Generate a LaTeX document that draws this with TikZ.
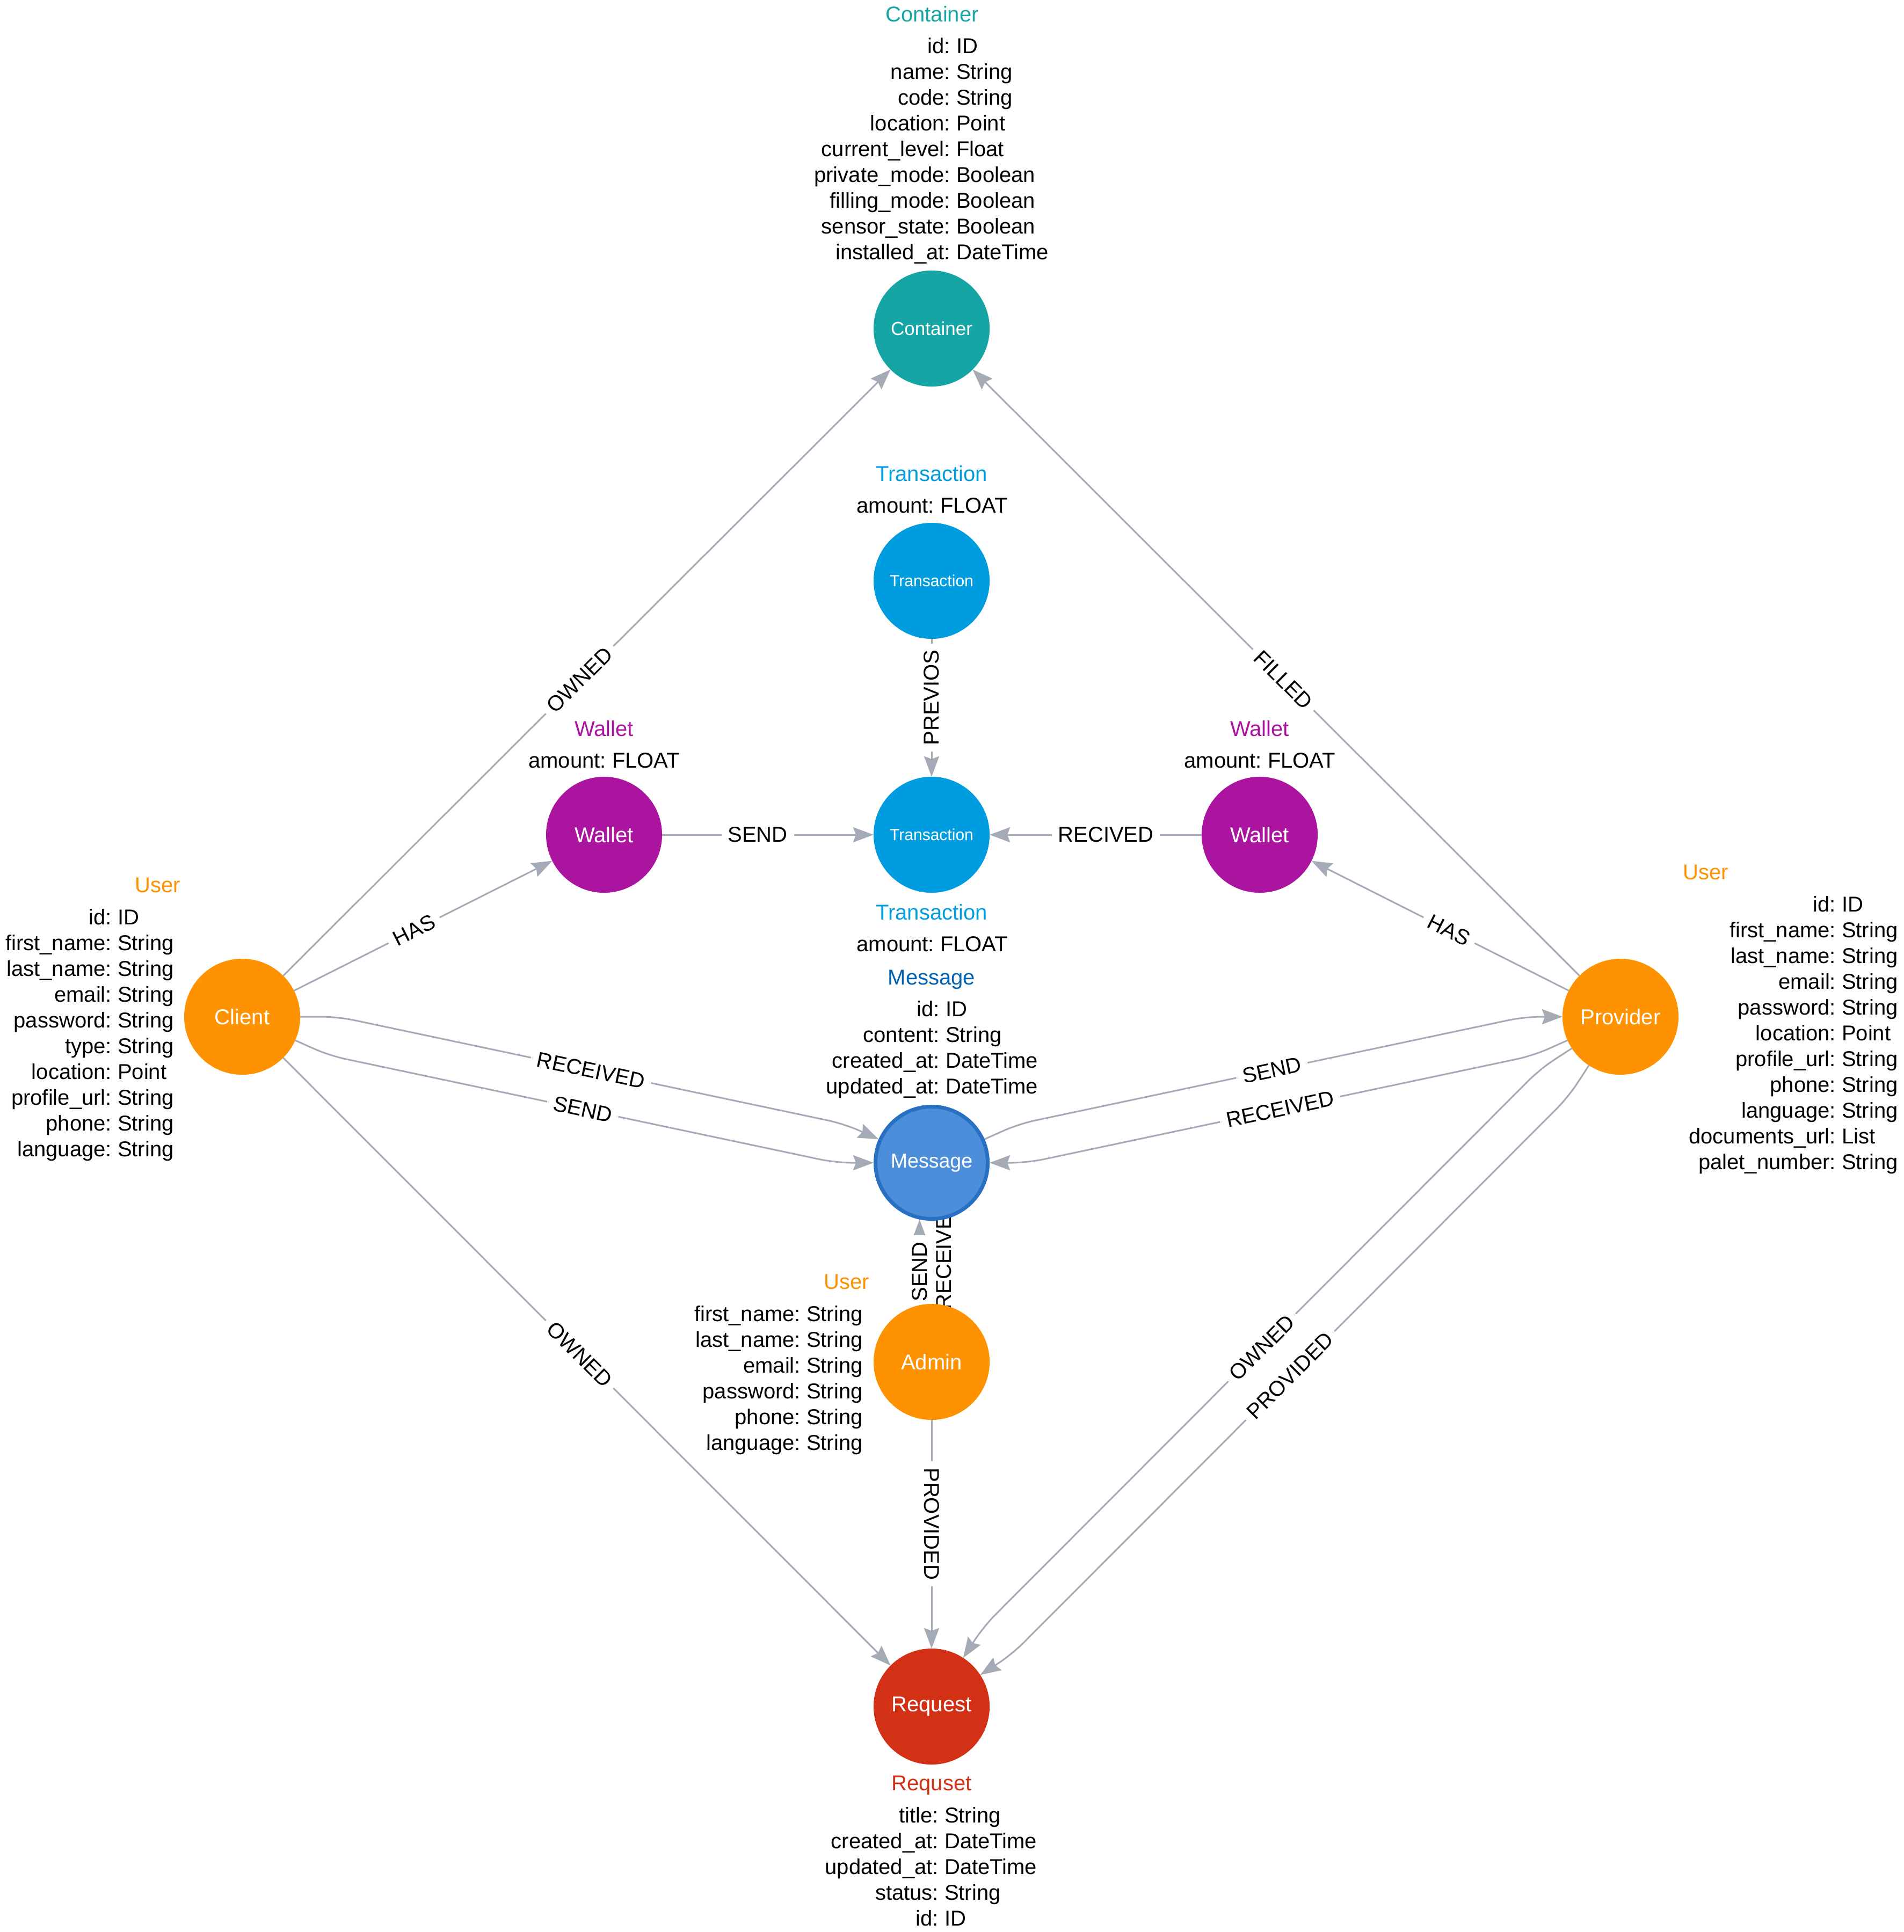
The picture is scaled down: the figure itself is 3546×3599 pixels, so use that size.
\documentclass[tikz,border=0pt]{standalone}
\usepackage{fontspec}
\setmainfont{Liberation Sans}
\usetikzlibrary{arrows.meta,calc,backgrounds}

\definecolor{cteal}{HTML}{16A5A5}
\definecolor{ctrans}{HTML}{009CE0}
\definecolor{cwallet}{HTML}{AB149E}
\definecolor{corange}{HTML}{FE9200}
\definecolor{cred}{HTML}{D33115}
\definecolor{cmsg}{HTML}{4C8EDA}
\definecolor{cmsgline}{HTML}{2870C2}
\definecolor{cmsghead}{HTML}{0062B1}
\definecolor{crel}{HTML}{A5ABB6}

\newcommand\fsz[1]{\fontsize{#1}{#1}\selectfont}
% property list aligned on the colon: #1 prefix, #2 colon x, #3 first baseline, #4 key/value pairs
\newcommand\proplist[4]{%
  \foreach \k/\v [count=\i from 0] in {#4}{%
    \node[prop, anchor=base east] (#1k\i) at (#2, #3+48*\i) {\k:};
    \node[prop, anchor=base west] (#1v\i) at (#2+11.1, #3+48*\i) {\v};
  }%
}

\tikzset{
  ent/.style={circle, minimum size=2.16cm, inner sep=0pt, outer sep=0pt,
    text=white, font=\fsz{11.38pt}},
  prop/.style={inner sep=0pt, outer sep=0pt, font=\fsz{11.38pt}, text=black},
  head/.style={prop, anchor=base},
  rel/.style={draw=crel, line width=0.03cm,
    -{Stealth[length=0.38cm, width=0.28cm, inset=0.05cm]}},
  bent/.style={rel, rounded corners=0.3cm},
  elabel/.style={fill=white, text=black, font=\fsz{11.38pt},
    inner xsep=0.12cm, inner ysep=0.03cm},
}

\begin{document}
\begin{tikzpicture}[x=0.01cm, y=-0.01cm]
\useasboundingbox (0,0) rectangle (3546,3599);

% entities
\node[ent, fill=cteal, font=\fsz{9.96pt}] (cont) at (1735,612) {Container};
\node[ent, fill=ctrans, font=\fsz{8.54pt}] (tr1) at (1735,1082) {Transaction};
\node[ent, fill=ctrans, font=\fsz{8.54pt}] (tr2) at (1735,1555) {Transaction};
\node[ent, fill=cwallet] (wal1) at (1125,1555) {Wallet};
\node[ent, fill=cwallet] (wal2) at (2346,1555) {Wallet};
\node[ent, fill=corange] (client) at (451,1894) {Client};
\node[ent, fill=corange] (prov) at (3018,1894) {Provider};
\node[ent, fill=cmsg, draw=cmsgline, line width=0.07cm, minimum size=2.09cm,
      outer sep=0.035cm, font=\fsz{10.67pt}] (msg) at (1735,2166) {Message};
\node[ent, fill=corange] (admin) at (1735,2537) {Admin};
\node[ent, fill=cred] (req) at (1735,3179) {Request};

% captions and properties
\node[head, text=cteal] (contcap) at (1736,40) {Container};
\proplist{cont}{1770}{99}{id/ID, name/String, code/String, location/Point,
  current\_level/Float, private\_mode/Boolean, filling\_mode/Boolean,
  sensor\_state/Boolean, installed\_at/DateTime}

\node[head, text=ctrans] (tronecap) at (1735,896) {Transaction};
\proplist{trone}{1740}{955}{amount/FLOAT}

\node[head, text=ctrans] (trtwocap) at (1735,1713) {Transaction};
\proplist{trtwo}{1740}{1772}{amount/FLOAT}

\node[head, text=cwallet] (walonecap) at (1125,1371) {Wallet};
\proplist{walone}{1129}{1430}{amount/FLOAT}

\node[head, text=cwallet] (waltwocap) at (2346,1371) {Wallet};
\proplist{waltwo}{2350}{1430}{amount/FLOAT}

\node[head, text=cmsghead] (msgcap) at (1735,1834) {Message};
\proplist{msg}{1750}{1893}{id/ID, content/String, created\_at/DateTime,
  updated\_at/DateTime}

\node[head, text=corange] (clientcap) at (294,1662) {User};
\proplist{client}{208}{1722}{id/ID, first\_name/String, last\_name/String,
  email/String, password/String, type/String, location/Point,
  profile\_url/String, phone/String, language/String}

\node[head, text=corange] (provcap) at (3177,1638) {User};
\proplist{prov}{3419}{1698}{id/ID, first\_name/String, last\_name/String,
  email/String, password/String, location/Point, profile\_url/String,
  phone/String, language/String, documents\_url/List, palet\_number/String}

\node[head, text=corange] (admincap) at (1577,2401) {User};
\proplist{admin}{1491}{2461}{first\_name/String, last\_name/String,
  email/String, password/String, phone/String, language/String}

\node[head, text=cred] (reqcap) at (1735,3335) {Requset};
\proplist{req}{1748}{3395}{title/String, created\_at/DateTime,
  updated\_at/DateTime, status/String, id/ID}

% relationships, drawn beneath the entities
\begin{pgfonlayer}{background}
\fill[white] (0,0) rectangle (3546,3599);

\draw[rel] (client) -- node[elabel, sloped, pos=0.488] {OWNED} (cont);
\draw[rel] (client) -- node[elabel, sloped, pos=0.465] {HAS} (wal1);
\draw[rel] (wal1) -- node[elabel, sloped, pos=0.452] {SEND} (tr2);
\draw[rel] (wal2) -- node[elabel, sloped, pos=0.452] {RECIVED} (tr2);
\draw[rel] (tr1) -- node[elabel, rotate=90, pos=0.426] {PREVIOS} (tr2);
\draw[rel] (prov) -- node[elabel, sloped, pos=0.465] {HAS} (wal2);
\draw[rel] (prov) -- node[elabel, sloped, pos=0.488] {FILLED} (cont);
\draw[rel] (client) -- node[elabel, sloped, pos=0.488] {OWNED} (req);
\draw[rel] (admin) -- node[elabel, rotate=-90, pos=0.455] {PROVIDED} (req);

% client <-> message
\draw[bent] (client.0) -- ($(client)+(0:1.78cm)$)
  -- node[elabel, sloped, pos=0.5] {RECEIVED} ($(msg)+(156:1.78cm)$) -- (msg.156);
\draw[bent] (client.-24) -- ($(client)+(-24:1.78cm)$)
  -- node[elabel, sloped, pos=0.5] {SEND} ($(msg)+(180:1.78cm)$) -- (msg.180);

% message <-> provider
\draw[bent] (msg.24) -- ($(msg)+(24:1.78cm)$)
  -- node[elabel, sloped, pos=0.5] {SEND} ($(prov)+(180:1.78cm)$) -- (prov.180);
\draw[bent] (prov.204) -- ($(prov)+(204:1.78cm)$)
  -- node[elabel, sloped, pos=0.5] {RECEIVED} ($(msg)+(0:1.78cm)$) -- (msg.0);

% admin <-> message
\draw[rel] (admin.102) -- node[elabel, rotate=90, pos=0.39] {SEND} (msg.258);
\draw[rel] (msg.282) -- node[elabel, rotate=90, pos=0.41] {RECEIVED} (admin.78);

% provider -> request
\draw[bent] (prov.213) -- ($(prov)+(213:1.78cm)$)
  -- node[elabel, sloped, pos=0.5] {OWNED} ($(req)+(57:1.78cm)$) -- (req.57);
\draw[bent] (prov.237) -- ($(prov)+(237:1.78cm)$)
  -- node[elabel, sloped, pos=0.5] {PROVIDED} ($(req)+(33:1.78cm)$) -- (req.33);
\end{pgfonlayer}
\end{tikzpicture}
\end{document}
